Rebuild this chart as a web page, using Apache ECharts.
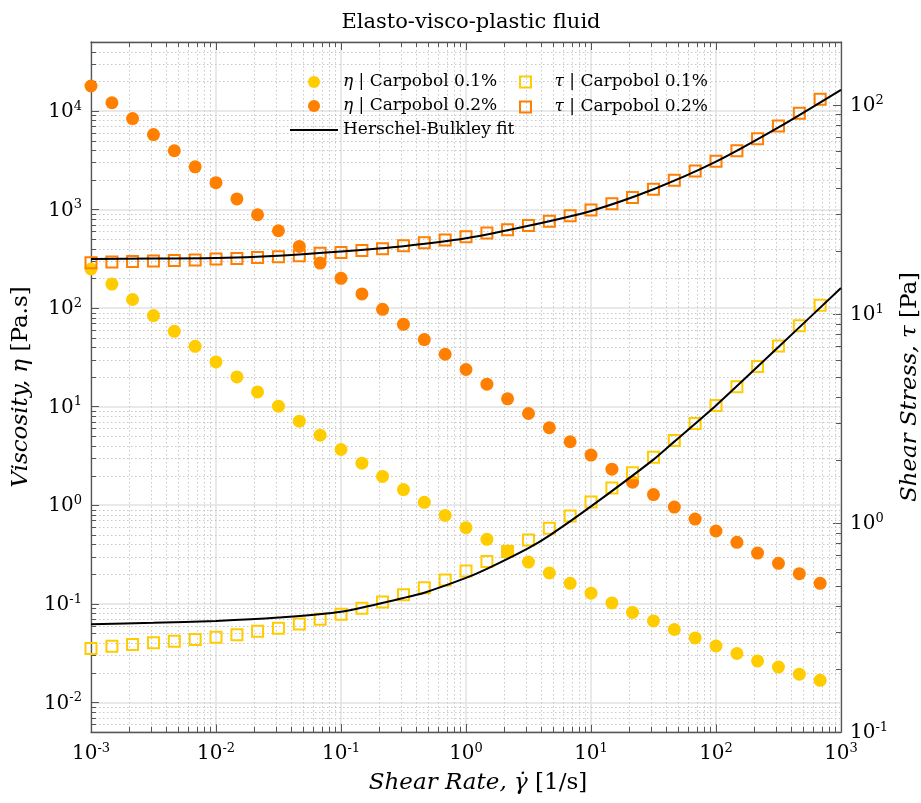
<!DOCTYPE html>
<html><head><meta charset="utf-8">
<script src="https://cdn.jsdelivr.net/npm/echarts@6/dist/echarts.min.js"></script>
<style>html,body{margin:0;padding:0;background:#fff}#c{width:921px;height:803px}</style>
</head><body><div id="c"></div>
<script>
// ---- data ----
const shearRate = [0.001,0.00147,0.00215,0.00316,0.00464,0.00681,
  0.01,0.0147,0.0215,0.0316,0.0464,0.0681,
  0.1,0.147,0.215,0.316,0.464,0.681,
  1,1.47,2.15,3.16,4.64,6.81,
  10,14.7,21.5,31.6,46.4,68.1,
  100,147,215,316,464,681];
const etaC01 = [249,175,122,83.8,58.1,40.9, 28.4,20.0,14.1,10.1,7.11,5.13,
  3.67,2.67,1.96,1.44,1.07,0.788, 0.591,0.450,0.343,0.265,0.205,0.161,
  0.128,0.102,0.0816,0.0670,0.0548,0.0450, 0.0373,0.0313,0.0263,0.0228,0.0193,0.0167];
const etaC02 = [17900,12100,8360,5750,3940,2710, 1870,1280,884,608,422,286,
  200,139,97,68.4,47.9,34.0, 23.8,16.9,12.0,8.51,6.10,4.40,
  3.22,2.32,1.71,1.28,0.957,0.723, 0.547,0.420,0.327,0.257,0.202,0.161];
const tauC01 = [0.251,0.257,0.262,0.267,0.272,0.277, 0.284,0.292,0.303,0.314,0.329,0.346,
  0.366,0.391,0.419,0.453,0.490,0.533, 0.589,0.654,0.730,0.830,0.944,1.08,
  1.26,1.47,1.74,2.06,2.48,2.99, 3.65,4.49,5.61,7.02,8.77,11.0];
const tauC02 = [17.6,17.7,17.8,17.9,18.0,18.1, 18.3,18.4,18.6,18.8,19.0,19.5,
  19.7,20.1,20.5,21.2,21.9,22.6, 23.4,24.4,25.3,26.5,27.8,29.5,
  31.4,33.7,36.1,39.5,43.6,48.3, 53.7,60.4,68.9,79.2,91.3,106.5];
// Herschel-Bulkley fit curves
const fitRate01 = [0.001,0.00316,0.01,0.0316,0.1,0.316,0.464,1,1.47,3.16,4.64,10,31.6,46.4,100,316,1000];
const fitC01    = [0.328,0.333,0.340,0.353,0.376,0.438,0.464,0.546,0.603,0.758,0.870,1.20,2.01,2.45,3.65,6.95,13.3];
const fitRate02 = [0.001,0.00316,0.01,0.0316,0.1,0.316,1,3.16,10,31.6,100,316,1000];
const fitC02    = [18.3,18.4,18.5,19.0,19.9,21.1,23.0,26.4,31.1,39.5,53.5,78.0,118];

const names = {
  e1: 'η | Carpobol 0.1%', e2: 'η | Carpobol 0.2%',
  t1: 'τ | Carpobol 0.1%', t2: 'τ | Carpobol 0.2%', fit: 'Herschel-Bulkley fit'
};
const title = 'Elasto-visco-plastic fluid';

// ---- styling ----
const FONT = '"DejaVu Serif", "Liberation Serif", serif';
const YEL = '#ffcc00', ORA = '#ff7f00';
const FRAME = '#555';
const SQUARE_ICON = 'path://M0,0H10V10H0Z';
const LINE_ICON = 'path://M0,0H100V4H0Z';

// minor tick values (2..9 per decade)
const xMinor = [], yMinor = [], rMinor = [];
for (let e = -3; e < 3; e++) for (let m = 2; m < 10; m++) xMinor.push(m * Math.pow(10, e));
for (let e = -3; e < 5; e++) for (let m = 2; m < 10; m++) { const v = m * Math.pow(10, e); if (v > 5.01e-3 && v < 4.99e4) yMinor.push(v); }
for (let e = -1; e < 3; e++) for (let m = 2; m < 10; m++) { const v = m * Math.pow(10, e); if (v < 199) rMinor.push(v); }

const pair = (xs, ys) => xs.map((x, i) => [x, ys[i]]);

const supRich = {
  b: { fontFamily: FONT, fontSize: 20, color: '#000', verticalAlign: 'bottom', lineHeight: 22 },
  s: { fontFamily: FONT, fontSize: 13, color: '#000', verticalAlign: 'top', lineHeight: 12 }
};
function powLabel(v) {
  const l = Math.log10(v); const e = Math.round(l);
  if (Math.abs(l - e) > 1e-6) return '';
  return '{b|10}{s|' + e + '}';
}
const nameStyle = (pad) => ({
  fontFamily: FONT, fontSize: 23, color: '#000', padding: pad,
  rich: {
    i: { fontFamily: FONT, fontSize: 23, fontStyle: 'italic', color: '#000' },
    n: { fontFamily: FONT, fontSize: 23, color: '#000' }
  }
});
const crisp = v => Math.round(v) + 0.5;

function minorX(params, api) {
  const cs = params.coordSys;
  const px = crisp(api.coord([api.value(0), 1])[0]);
  const top = cs.y, bot = cs.y + cs.height;
  return { type: 'group', children: [
    { type: 'line', shape: { x1: px, y1: top, x2: px, y2: bot }, style: { stroke: '#c8c8c8', lineWidth: 1, lineDash: [1.5, 2.5] } },
    { type: 'line', shape: { x1: px, y1: bot, x2: px, y2: bot - 5 }, style: { stroke: FRAME, lineWidth: 1 } },
    { type: 'line', shape: { x1: px, y1: top, x2: px, y2: top + 5 }, style: { stroke: FRAME, lineWidth: 1 } }
  ]};
}
function minorYL(params, api) {
  const cs = params.coordSys;
  const py = crisp(api.coord([1, api.value(1)])[1]);
  const l = cs.x, r = cs.x + cs.width;
  return { type: 'group', children: [
    { type: 'line', shape: { x1: l, y1: py, x2: r, y2: py }, style: { stroke: '#c8c8c8', lineWidth: 1, lineDash: [1.5, 2.5] } },
    { type: 'line', shape: { x1: l, y1: py, x2: l + 5, y2: py }, style: { stroke: FRAME, lineWidth: 1 } }
  ]};
}
function minorYR(params, api) {
  const cs = params.coordSys;
  const py = crisp(api.coord([1, api.value(1)])[1]);
  const r = cs.x + cs.width;
  return { type: 'line', shape: { x1: r, y1: py, x2: r - 5, y2: py }, style: { stroke: FRAME, lineWidth: 1 } };
}

const axisLineStyle = { show: true, lineStyle: { color: FRAME, width: 1.3 } };
const majorTick = { show: true, inside: true, length: 8, lineStyle: { color: FRAME, width: 1 } };

const legendText = {
  fontFamily: FONT, fontSize: 17, color: '#000', lineHeight: 20,
  rich: { i: { fontFamily: FONT, fontSize: 17, fontStyle: 'italic', color: '#000', lineHeight: 20 } }
};
const legendFmt = n => n.replace(/^(η|τ)/, '{i|$1}');

const option = {
  animation: false,
  backgroundColor: '#fff',
  title: {
    text: title, left: 466, top: 7, textAlign: 'center',
    textStyle: { fontFamily: FONT, fontSize: 21, fontWeight: 'normal', color: '#000' }
  },
  grid: { left: 91, right: 80, top: 42, bottom: 71, containLabel: false, outerBoundsMode: 'none' },
  legend: [
    { data: [names.e1, names.e2, { name: names.fit, icon: LINE_ICON }], orient: 'vertical', left: 290, top: 72,
      itemWidth: 48, itemHeight: 12, itemGap: 4, padding: 0, textStyle: legendText, formatter: legendFmt },
    { data: [{ name: names.t1, icon: SQUARE_ICON }, { name: names.t2, icon: SQUARE_ICON }], orient: 'vertical', left: 519, top: 72,
      itemWidth: 48, itemHeight: 11, itemGap: 5, padding: 0, textStyle: legendText, formatter: legendFmt }
  ],
  xAxis: [
    { type: 'log', logBase: 10, min: 0.001, max: 1000, position: 'bottom',
      axisLine: axisLineStyle, axisTick: majorTick,
      axisLabel: { formatter: powLabel, margin: 10, rich: supRich },
      splitLine: { show: true, lineStyle: { color: '#e2e2e2', width: 1.5 } },
      minorTick: { show: false }, minorSplitLine: { show: false },
      name: '{i|Shear Rate, γ̇} {n|[1/s]}', nameLocation: 'middle', nameGap: 40, nameTextStyle: nameStyle([0, 0, 0, 24]) },
    { type: 'log', logBase: 10, min: 0.001, max: 1000, position: 'top',
      axisLine: axisLineStyle, axisTick: majorTick, axisLabel: { show: false }, splitLine: { show: false } }
  ],
  yAxis: [
    { type: 'log', logBase: 10, min: 0.005, max: 50000, position: 'left',
      axisLine: axisLineStyle, axisTick: majorTick,
      axisLabel: { formatter: powLabel, margin: 9, rich: supRich },
      splitLine: { show: true, lineStyle: { color: '#e2e2e2', width: 1.5 } },
      name: '{i|Viscosity, η} {n|[Pa.s]}', nameLocation: 'middle', nameRotate: 90, nameGap: 54, nameTextStyle: nameStyle(0) },
    { type: 'log', logBase: 10, min: 0.1, max: 200, position: 'right',
      axisLine: axisLineStyle, axisTick: majorTick,
      axisLabel: { formatter: powLabel, margin: 9, rich: supRich },
      splitLine: { show: false },
      name: '{i|Shear Stress, τ} {n|[Pa]}', nameLocation: 'middle', nameRotate: 90, nameGap: 52, nameTextStyle: nameStyle(0) }
  ],
  series: [
    { type: 'custom', name: 'minorX', xAxisIndex: 0, yAxisIndex: 0, z: 1, silent: true,
      renderItem: minorX, data: xMinor.map(v => [v, 1]) },
    { type: 'custom', name: 'minorYL', xAxisIndex: 0, yAxisIndex: 0, z: 1, silent: true,
      renderItem: minorYL, data: yMinor.map(v => [1, v]) },
    { type: 'custom', name: 'minorYR', xAxisIndex: 0, yAxisIndex: 1, z: 1, silent: true,
      renderItem: minorYR, data: rMinor.map(v => [1, v]) },
    { type: 'scatter', name: names.e1, xAxisIndex: 0, yAxisIndex: 0, symbol: 'circle', symbolSize: 13,
      itemStyle: { color: YEL, opacity: 1 }, data: pair(shearRate, etaC01), z: 3 },
    { type: 'scatter', name: names.e2, xAxisIndex: 0, yAxisIndex: 0, symbol: 'circle', symbolSize: 13,
      itemStyle: { color: ORA, opacity: 1 }, data: pair(shearRate, etaC02), z: 3 },
    { type: 'scatter', name: names.t1, xAxisIndex: 0, yAxisIndex: 1, symbol: 'rect', symbolSize: 11,
      itemStyle: { color: 'rgba(255,255,255,0)', borderColor: YEL, borderWidth: 2, opacity: 1 }, data: pair(shearRate, tauC01), z: 3 },
    { type: 'scatter', name: names.t2, xAxisIndex: 0, yAxisIndex: 1, symbol: 'rect', symbolSize: 11,
      itemStyle: { color: 'rgba(255,255,255,0)', borderColor: ORA, borderWidth: 2, opacity: 1 }, data: pair(shearRate, tauC02), z: 3 },
    { type: 'line', name: names.fit, xAxisIndex: 0, yAxisIndex: 1, symbol: 'none', smooth: 0.25,
      lineStyle: { color: '#000', width: 2 }, itemStyle: { color: '#000' }, data: pair(fitRate01, fitC01), z: 4 },
    { type: 'line', name: names.fit, xAxisIndex: 0, yAxisIndex: 1, symbol: 'none', smooth: 0.25,
      lineStyle: { color: '#000', width: 2 }, itemStyle: { color: '#000' }, data: pair(fitRate02, fitC02), z: 4 }
  ]
};
const chart = echarts.init(document.getElementById('c'), null, { renderer: 'canvas' });
chart.setOption(option);
</script></body></html>
